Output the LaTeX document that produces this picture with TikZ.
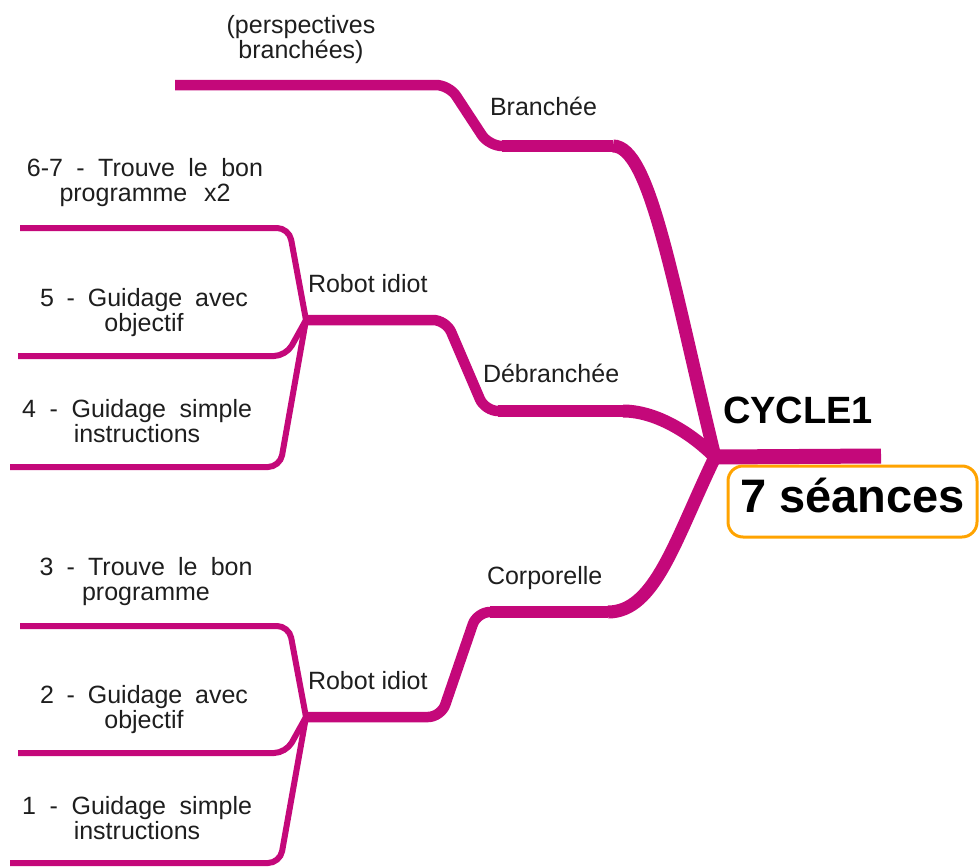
\documentclass[tikz,border=0pt]{standalone}
\usepackage{fontspec}
\setmainfont{Liberation Sans}
\definecolor{mag}{RGB}{196,8,122}
\definecolor{org}{RGB}{255,163,0}
\definecolor{txt}{RGB}{30,30,30}
\begin{document}
\begin{tikzpicture}[x=1pt,y=-1pt,
  lbl/.style={font=\fontsize{25}{25}\selectfont, text=txt, inner sep=0pt, outer sep=0pt},
  sl/.style={lbl, anchor=base west},
  ml/.style={lbl, align=center, anchor=north},
  trunk/.style={draw=mag, line width=13pt},
  midline/.style={draw=mag, line width=10.5pt, rounded corners=13pt},
  midhead/.style={draw=mag, line width=12pt},
  leaf/.style={draw=mag, line width=6pt, rounded corners=12pt},
  core/.style={draw=mag, line width=15pt},
  cyc/.style={font=\bfseries\fontsize{38}{40}\selectfont, text=black, inner sep=0pt, anchor=base west},
  seance/.style={draw=org, line width=3pt, rounded corners=15pt, font=\bfseries\fontsize{47}{50}\selectfont, text=black, minimum width=249pt, minimum height=71pt, inner sep=0pt, text height=35pt, text depth=14pt}
]
\useasboundingbox (0,0) rectangle (979,867);

% key points
\coordinate (hub) at (715,457);
\coordinate (cend) at (881,456);
% Branchee
\coordinate (bA) at (613,146);
\coordinate (bB) at (489,146);
\coordinate (bC) at (449,85);
\coordinate (bE) at (175,85);
% Debranchee
\coordinate (dA) at (623,411);
\coordinate (dB) at (485,411);
\coordinate (dC) at (446,320);
\coordinate (dJ) at (306,320);
\coordinate (dL1c) at (289,228);
\coordinate (dL1) at (20,228);
\coordinate (dL2c) at (286,356);
\coordinate (dL2) at (18,356);
\coordinate (dL3c) at (280,467);
\coordinate (dL3) at (10,467);
% Corporelle
\coordinate (cA) at (608,612);
\coordinate (cB) at (477,612);
\coordinate (cC) at (441,717);
\coordinate (cJ) at (306,717);
\coordinate (cL1c) at (289,626);
\coordinate (cL1) at (20,626);
\coordinate (cL2c) at (286,753);
\coordinate (cL2) at (18,753);
\coordinate (cL3c) at (280,863);
\coordinate (cL3) at (10,863);

% leaves
\draw[leaf] (dJ) -- (dL1c) -- (dL1);
\draw[leaf] (dJ) -- (dL2c) -- (dL2);
\draw[leaf] (dJ) -- (dL3c) -- (dL3);
\draw[leaf] (cJ) -- (cL1c) -- (cL1);
\draw[leaf] (cJ) -- (cL2c) -- (cL2);
\draw[leaf] (cJ) -- (cL3c) -- (cL3);

% middle pieces
\draw[midline] (bA) -- (bB) -- (bC) -- (bE);
\draw[midhead] (bA) -- ([xshift=13pt]bB);
\draw[midline] (dA) -- (dB) -- (dC) -- (dJ);
\draw[midhead] (dA) -- ([xshift=13pt]dB);
\draw[midline] (cA) -- (cB) -- (cC) -- (cJ);
\draw[midhead] (cA) -- ([xshift=13pt]cB);

% trunks
\draw[trunk] (hub) .. controls (672,280) and (650,146) .. (bA);
\draw[trunk] (hub) .. controls (690,432) and (655,411) .. (dA);
\draw[trunk] (hub) .. controls (675,540) and (655,612) .. (cA);
\draw[core] (hub) -- (cend);

% labels
\node[cyc] (cycle) at (723,423) {CYCLE1};
\node[seance] (sea) at (852.5,501.5) {7 séances};

\node[sl] (lbr) at (490,115) {Branchée};
\node[sl] (ldeb) at (483,382) {Débranchée};
\node[sl] (lcor) at (487,584) {Corporelle};
\node[sl] (lri1) at (308,292) {Robot idiot};
\node[sl] (lri2) at (308,689) {Robot idiot};

\node[ml] (lper) at (301,15) {(perspectives\\branchées)};
\node[ml] (l67) at (145,158) {\makebox[236pt][s]{6-7 - Trouve le bon}\\\makebox[171pt][s]{programme x2}};
\node[ml] (l5) at (144,288) {\makebox[208pt][s]{5 - Guidage avec}\\objectif};
\node[ml] (l4) at (137,399) {\makebox[230pt][s]{4 - Guidage simple}\\instructions};
\node[ml] (l3) at (146,557) {\makebox[213pt][s]{3 - Trouve le bon}\\programme};
\node[ml] (l2) at (144,685) {\makebox[208pt][s]{2 - Guidage avec}\\objectif};
\node[ml] (l1) at (137,796) {\makebox[230pt][s]{1 - Guidage simple}\\instructions};
\end{tikzpicture}
\end{document}
